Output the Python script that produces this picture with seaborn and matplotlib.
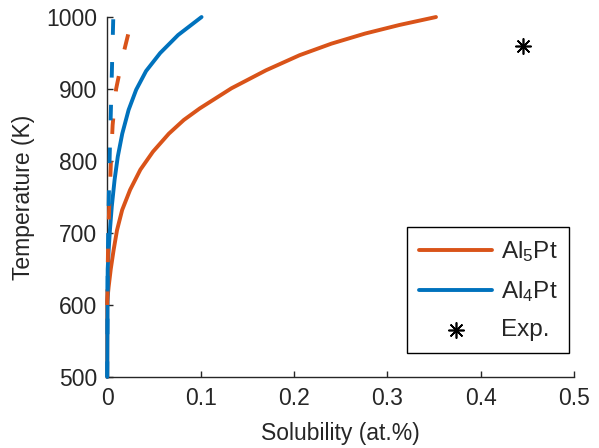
import matplotlib
matplotlib.use("Agg")
import matplotlib.pyplot as plt
import pandas as pd
import seaborn as sns

# Solubility curves (at.%) versus temperature (K)
al5pt_temp = [500, 605, 625, 650, 676, 704, 732, 760, 788, 813, 838, 857, 873, 901, 926, 947, 963,
              977, 989, 1000]
al5pt_sol = [0.0, 0.0, 0.0015, 0.0038, 0.0068, 0.0105, 0.016, 0.0245, 0.0355, 0.049, 0.066, 0.082,
             0.099, 0.133, 0.170, 0.206, 0.240, 0.276, 0.313, 0.352]

al4pt_temp = [500, 650, 675, 704, 737, 774, 806, 838, 871, 899, 925, 950, 975, 1000]
al4pt_sol = [0.0, 0.0005, 0.0015, 0.0029, 0.0049, 0.0079, 0.0113, 0.0161, 0.0229, 0.0310, 0.0416,
             0.0567, 0.0759, 0.101]

# Alternative-model curves (dashed, not in legend)
al5pt_alt_temp = [600, 650, 700, 750, 800, 850, 900, 950, 1000]
al5pt_alt_sol = [0.0, 0.0005, 0.0012, 0.0025, 0.004, 0.0058, 0.0095, 0.0175, 0.027]

al4pt_alt_temp = [500, 650, 700, 750, 800, 850, 900, 950, 1000]
al4pt_alt_sol = [0.0, 0.0005, 0.001, 0.0017, 0.0025, 0.0035, 0.0045, 0.0055, 0.0065]

# Experimental point
exp_sol = [0.445]
exp_temp = [960]

x_ticks = [0, 0.1, 0.2, 0.3, 0.4, 0.5]
x_tick_labels = ["0", "0.1", "0.2", "0.3", "0.4", "0.5"]
y_ticks = [500, 600, 700, 800, 900, 1000]

orange = "#D95319"
blue = "#0072BD"
ink = "#262626"

sns.set_theme(style="ticks")
plt.rcParams["font.family"] = ["Liberation Sans", "DejaVu Sans"]
plt.rcParams["mathtext.fontset"] = "custom"
plt.rcParams["mathtext.rm"] = "Liberation Sans"
plt.rcParams["mathtext.it"] = "Liberation Sans:italic"
plt.rcParams["mathtext.bf"] = "Liberation Sans:bold"

fs = 16.5

fig = plt.figure(figsize=(5.99, 4.48), dpi=100)
ax = fig.add_axes([0.179, 0.1585, 0.7796, 0.8035])

def curve(sol, temp):
    return pd.DataFrame({"sol": sol, "temp": temp})

lw = 2.8
line_kw = dict(x="sol", y="temp", sort=False, estimator=None, lw=lw, ax=ax,
               clip_on=False, zorder=3, solid_joinstyle="round")
sns.lineplot(data=curve(al5pt_sol, al5pt_temp), color=orange, label="Al$_5$Pt", **line_kw)
sns.lineplot(data=curve(al4pt_sol, al4pt_temp), color=blue, label="Al$_4$Pt", **line_kw)
sns.lineplot(data=curve(al5pt_alt_sol, al5pt_alt_temp), color=orange, linestyle=(0, (4, 7)),
             legend=False, **line_kw)
sns.lineplot(data=curve(al4pt_alt_sol, al4pt_alt_temp), color=blue, linestyle=(0, (4, 7)),
             legend=False, **line_kw)
sns.scatterplot(data=curve(exp_sol, exp_temp), x="sol", y="temp", marker=(8, 2, 0), s=120,
                color="black", linewidth=1.2, label="Exp.", ax=ax, zorder=4)

ax.set_xlim(0, 0.5)
ax.set_ylim(500, 1000)
ax.set_xticks(x_ticks)
ax.set_xticklabels(x_tick_labels)
ax.set_yticks(y_ticks)
ax.tick_params(direction="in", length=4, width=1.0, colors=ink, labelsize=fs, pad=7,
               labelcolor=ink)
for side in ["top", "right"]:
    ax.spines[side].set_visible(False)
for side in ["left", "bottom"]:
    ax.spines[side].set_linewidth(1.0)
    ax.spines[side].set_color(ink)

ax.set_xlabel("Solubility (at.%)", fontsize=fs, color=ink, labelpad=9)
ax.set_ylabel("Temperature (K)", fontsize=fs, color=ink, labelpad=8)

leg = ax.legend(loc="upper left", bbox_to_anchor=(0.642, 0.417), borderaxespad=0,
                fontsize=17.5, frameon=True, fancybox=False, framealpha=1,
                edgecolor="black", handlelength=3.0, handletextpad=0.35,
                labelspacing=0.62, borderpad=0.5, scatterpoints=1)
leg.get_frame().set_linewidth(1.0)
for t in leg.get_texts():
    t.set_color(ink)

fig.savefig("out.png", dpi=100)
